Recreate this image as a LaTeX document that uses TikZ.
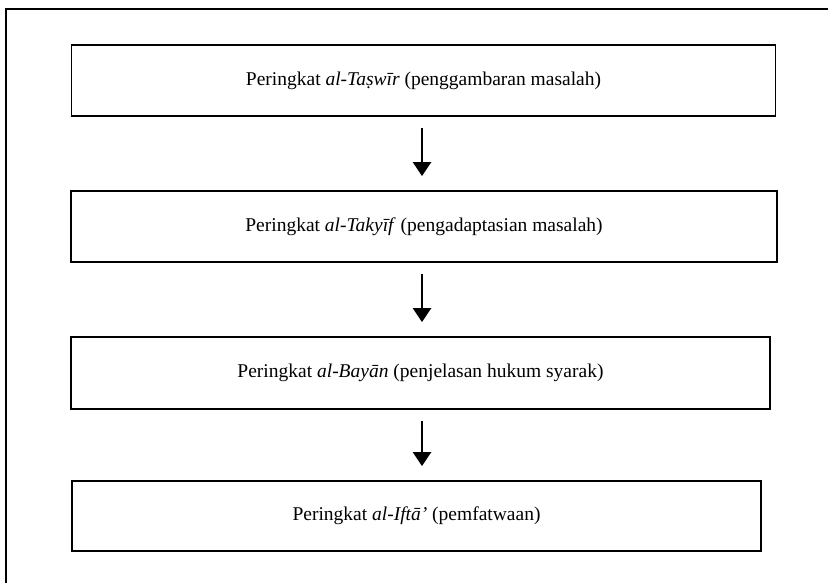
\documentclass[tikz,border=0pt]{standalone}
\usepackage{fontspec}
\setmainfont{Liberation Serif}
\usepackage{tikz}
\usetikzlibrary{arrows.meta}

\tikzset{
  stagebox/.style={draw, line width=1.8pt, rectangle, minimum height=71pt,
    font=\fontsize{19.5}{23}\selectfont},
  flowarrow/.style={line width=2.6pt, -{Triangle[width=18pt,length=14pt]},
    shorten <=11pt, shorten >=14pt}
}

\begin{document}
\begin{tikzpicture}[x=1pt, y=-1pt]
\useasboundingbox (0,0) rectangle (828,582);
\clip (0,0) rectangle (828,582);
% Outer frame (cut off at the right and bottom)
\draw[line width=1.8pt] (850,9) -- (6,9) -- (6,600);

% Stages of the fatwa process
\node[stagebox, minimum width=704pt] (taswir) at (423.5,80.5)
  {Peringkat \textit{al-Taṣwīr} (penggambaran masalah)};
\node[stagebox, minimum width=706pt] (takyif) at (424,226.5)
  {Peringkat \textit{al-Takyīf} (pengadaptasian masalah)};
\node[stagebox, minimum width=699pt, minimum height=72pt] (bayan) at (420.5,373)
  {Peringkat \textit{al-Bayān} (penjelasan hukum syarak)};
\node[stagebox, minimum width=689pt, minimum height=70pt] (ifta) at (416.5,516)
  {Peringkat \textit{al-Iftā’} (pemfatwaan)};

% Arrows between stages
\coordinate (ax) at (422,0);
\draw[flowarrow] (taswir.south -| ax) -- (takyif.north -| ax);
\draw[flowarrow] (takyif.south -| ax) -- (bayan.north -| ax);
\draw[flowarrow] (bayan.south -| ax) -- (ifta.north -| ax);
\end{tikzpicture}
\end{document}
